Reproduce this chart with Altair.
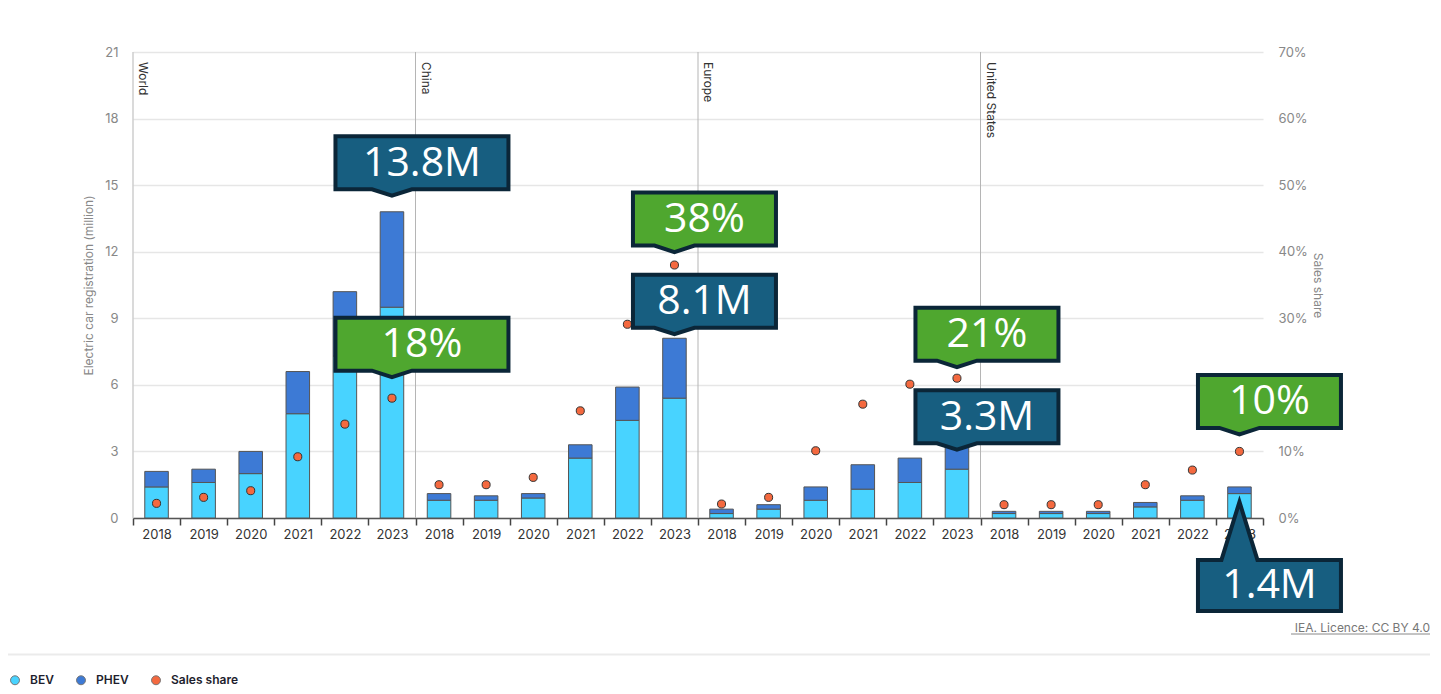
import altair as alt
import pandas as pd

# ---------------- data ----------------
regions = ["World", "China", "Europe", "United States"]
years = ["2018", "2019", "2020", "2021", "2022", "2023"]

bev_world = [1.4, 1.6, 2.0, 4.7, 7.3, 9.5]
bev_china = [0.8, 0.8, 0.9, 2.7, 4.4, 5.4]
bev_europe = [0.2, 0.4, 0.8, 1.3, 1.6, 2.2]
bev_us = [0.2, 0.2, 0.2, 0.5, 0.8, 1.1]

phev_world = [0.7, 0.6, 1.0, 1.9, 2.9, 4.3]
phev_china = [0.3, 0.2, 0.2, 0.6, 1.5, 2.7]
phev_europe = [0.2, 0.2, 0.6, 1.1, 1.1, 1.1]
phev_us = [0.1, 0.1, 0.1, 0.2, 0.2, 0.3]

share_world = [2.2, 3.1, 4.1, 9.2, 14.1, 18]
share_china = [5.0, 5.0, 6.1, 16.1, 29.1, 38]
share_europe = [2.1, 3.1, 10.1, 17.1, 20.1, 21]
share_us = [2.0, 2.0, 2.0, 5.0, 7.2, 10]

types = ["BEV", "PHEV", "Sales share"]

callout_labels = ["13.8M", "18%", "38%", "8.1M", "21%", "3.3M", "10%", "1.4M"]
callout_regions = ["World", "World", "China", "China", "Europe", "Europe",
                   "United States", "United States"]
callout_values = [13.8, 18, 38, 8.1, 21, 3.3, 10, 1.4]
callout_units = ["M", "%", "%", "M", "%", "M", "%", "M"]

# ---------------- styling ----------------
colors = ["#48D3FF", "#3D7AD5", "#F4693F"]
BLUE_BOX = "#175E80"
GREEN_BOX = "#4FA72F"
BORDER = "#0B2638"
FONT = "Inter"
CALLOUT_FONT = "Open Sans"

# per callout: (pixel offset of pointer tip from the data point, path width, pointer direction)
callout_style = [
    (-16, 173, "down"), (-21, 173, "down"), (-13, 143, "down"), (-4, 143, "down"),
    (-11, 143, "down"), (5, 143, "down"), (-17, 143, "down"), (15, 143, "up"),
]
BOX_SHIFT = 30

bev = {"World": bev_world, "China": bev_china, "Europe": bev_europe, "United States": bev_us}
phev = {"World": phev_world, "China": phev_china, "Europe": phev_europe, "United States": phev_us}
share = {"World": share_world, "China": share_china, "Europe": share_europe, "United States": share_us}

keys = [f"{r}|{y}" for r in regions for y in years]

bar_rows, pt_rows = [], []
for r in regions:
    for i, y in enumerate(years):
        k = f"{r}|{y}"
        bar_rows.append({"key": k, "type": "BEV", "order": 0, "value": bev[r][i]})
        bar_rows.append({"key": k, "type": "PHEV", "order": 1, "value": phev[r][i]})
        pt_rows.append({"key": k, "type": "Sales share", "value": share[r][i]})
bars_df = pd.DataFrame(bar_rows)
pts_df = pd.DataFrame(pt_rows)
sep_df = pd.DataFrame({"key": [f"{r}|{years[0]}" for r in regions], "region": regions})

xscale = alt.Scale(domain=keys, paddingInner=0, paddingOuter=0, type="band")
yleft = alt.Scale(domain=[0, 21], nice=False)
yright = alt.Scale(domain=[0, 70], nice=False)
cscale = alt.Scale(domain=types, range=colors)

x_axis = alt.Axis(
    title=None, labelExpr="split(datum.value, '|')[1]", tickBand="extent",
    labelAngle=0, labelFontSize=13, labelColor="#333", tickColor="#444",
    tickSize=7, tickWidth=1.5, domainColor="#555", domainWidth=1.5,
    labelPadding=3, grid=False, labelOverlap=False,
)


def X(**kw):
    # every layer carries the same axis definition so that the shared axis merges cleanly
    return alt.X("key:N", scale=xscale, sort=None, axis=x_axis, **kw)


legend = alt.Legend(
    orient="none", legendX=-124, legendY=622, direction="horizontal", title=None,
    symbolType="circle", symbolSize=80, symbolStrokeColor="#777", symbolStrokeWidth=1,
    labelFont=FONT, labelFontSize=12, labelFontWeight=600, labelColor="#1e1e2e",
    columnPadding=20, labelOffset=9, padding=0,
)

bars = alt.Chart(bars_df).mark_bar(
    width=alt.RelativeBandSize(0.5), stroke="#555", strokeWidth=1
).encode(
    x=X(),
    y=alt.Y("value:Q", stack="zero", scale=yleft, axis=alt.Axis(
        values=[0, 3, 6, 9, 12, 15, 18, 21], title="Electric car registration (million)",
        titleFontSize=12, titleFontWeight="normal", titleColor="#888",
        labelColor="#888", labelFontSize=13, ticks=False, domain=False,
        labelPadding=15, gridColor="#e6e6e6", gridWidth=1.5, titlePadding=9,
    )),
    color=alt.Color("type:N", scale=cscale, legend=legend),
    order=alt.Order("order:Q"),
)

seps = alt.Chart(sep_df).mark_rule(color="#b5b5b5", strokeWidth=1).encode(
    x=X(bandPosition=0)
)

region_labels = alt.Chart(sep_df).mark_text(
    angle=90, align="left", baseline="middle", xOffset=10, yOffset=10,
    fontSize=12, color="#333", font=FONT,
).encode(
    x=X(bandPosition=0),
    y=alt.Y(datum=21, scale=yleft, axis=None),
    text="region:N",
)

one = pd.DataFrame({"a": [0]})
footer_line = alt.Chart(one).mark_rule(color="#ebebeb", strokeWidth=2).encode(
    x=alt.value(-125), x2=alt.value(1297), y=alt.value(602.5)
)
credit = alt.Chart(one).mark_text(
    text="IEA. Licence: CC BY 4.0", align="right", baseline="middle",
    fontSize=12, color="#777", font=FONT,
).encode(x=alt.value(1297), y=alt.value(576))
credit_ul = alt.Chart(one).mark_rule(color="#888", strokeWidth=1).encode(
    x=alt.value(1158), x2=alt.value(1297), y=alt.value(582)
)

points = alt.Chart(pts_df).mark_circle(
    size=65, stroke="#333", strokeWidth=1, opacity=1
).encode(
    x=X(),
    y=alt.Y("value:Q", scale=yright, axis=alt.Axis(
        orient="right", values=[0, 10, 20, 30, 40, 50, 60, 70],
        labelExpr="datum.value + '%'", title="Sales share", grid=False,
        ticks=False, domain=False, labelPadding=15, labelColor="#888",
        labelFontSize=13, titleColor="#888", titleFontSize=12,
        titleFontWeight="normal", titlePadding=3,
    )),
    color=alt.Color("type:N", scale=cscale, legend=None),
)


def callout_path(w, direction):
    l, r = BOX_SHIFT - w / 2, BOX_SHIFT + w / 2
    if direction == "down":
        ph, bh, pw = 6.5, 53, 20
        b, t = -ph, -ph - bh
        path = f"M{l},{t}L{r},{t}L{r},{b}L{pw},{b}L0,0L{-pw},{b}L{l},{b}Z"
        text_dy = -ph - bh / 2 + 1
    else:
        ph, bh, pw = 58, 51, 18
        path = (f"M0,0L{pw},{ph}L{r},{ph}L{r},{ph + bh}L{l},{ph + bh}"
                f"L{l},{ph}L{-pw},{ph}Z")
        text_dy = ph + bh / 2 + 1
    return path, text_dy


m_layers, p_layers = [], []
for lab, reg, val, unit, (tip, w, d) in zip(callout_labels, callout_regions,
                                            callout_values, callout_units, callout_style):
    df = pd.DataFrame({"key": [f"{reg}|2023"], "value": [val]})
    path, tdy = callout_path(w, d)
    ys = yleft if unit == "M" else yright
    fill = BLUE_BOX if unit == "M" else GREEN_BOX
    enc = dict(x=X(), y=alt.Y("value:Q", scale=ys, axis=None))
    shape = alt.Chart(df).mark_point(
        shape=path, size=4, filled=True, fill=fill, stroke=BORDER, strokeWidth=4,
        opacity=1, strokeJoin="miter", yOffset=tip,
    ).encode(**enc)
    txt = alt.Chart(df).mark_text(
        text=lab, fontSize=41, color="white", font=CALLOUT_FONT, align="center",
        baseline="middle", xOffset=BOX_SHIFT, yOffset=tip + tdy,
    ).encode(**enc)
    (m_layers if unit == "M" else p_layers).extend([shape, txt])

chart = alt.layer(
    bars, seps, region_labels, footer_line, credit, credit_ul, points,
    *m_layers, *p_layers
).resolve_scale(
    y="independent"
).properties(
    width=1130, height=466,
    padding={"left": 125, "top": 44, "right": 169, "bottom": 168},
    autosize=alt.AutoSizeParams(type="none"),
).configure(font=FONT).configure_view(stroke=None)

chart.save("out.html", embed_options={"renderer": "svg", "actions": False})
